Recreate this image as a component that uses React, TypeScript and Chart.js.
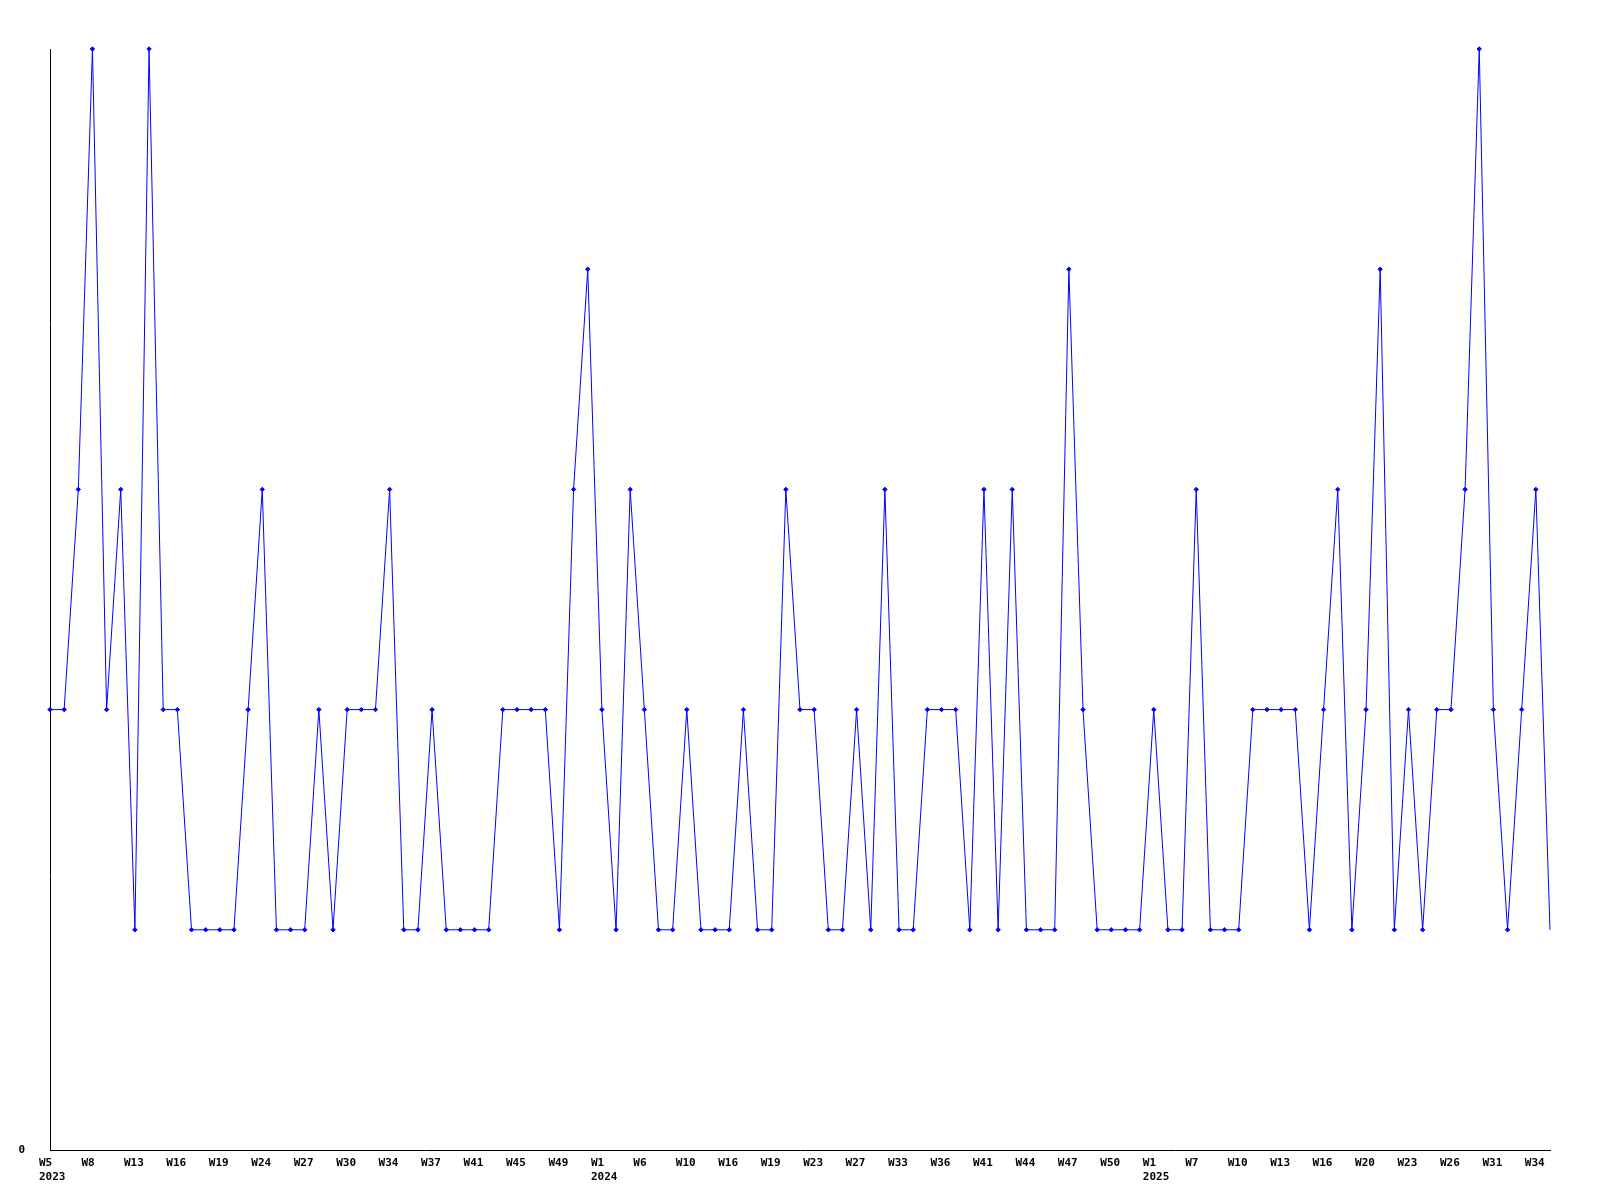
import React, { useEffect, useRef } from "react";
import { Chart, registerables } from "chart.js";

Chart.register(...registerables);

// Weekly values (107 points)
const values: number[] = [
  2, 2, 3, 5, 2, 3, 1, 5, 2, 2,
  1, 1, 1, 1, 2, 3, 1, 1, 1, 2,
  1, 2, 2, 2, 3, 1, 1, 2, 1, 1,
  1, 1, 2, 2, 2, 2, 1, 3, 4, 2,
  1, 3, 2, 1, 1, 2, 1, 1, 1, 2,
  1, 1, 3, 2, 2, 1, 1, 2, 1, 3,
  1, 1, 2, 2, 2, 1, 3, 1, 3, 1,
  1, 1, 4, 2, 1, 1, 1, 1, 2, 1,
  1, 3, 1, 1, 1, 2, 2, 2, 2, 1,
  2, 3, 1, 2, 4, 1, 2, 1, 2, 2,
  3, 5, 2, 1, 2, 3, 1,
];

// Tick labels shown every 3rd point
const tickWeeks: string[] = [
  "W5", "W8", "W13", "W16", "W19", "W24", "W27", "W30", "W34", "W37", "W41", "W45", "W49",
  "W1", "W6", "W10", "W16", "W19", "W23", "W27", "W33", "W36", "W41", "W44", "W47", "W50",
  "W1", "W7", "W10", "W13", "W16", "W20", "W23", "W26", "W31", "W34",
];
const tickYears: string[] = [
  "2023", "", "", "", "", "", "", "", "", "", "", "", "",
  "2024", "", "", "", "", "", "", "", "", "", "", "", "",
  "2025", "", "", "", "", "", "", "", "", "",
];
const tickEvery = 3;
const yMin = 0;
const yMax = 5;

export default function App() {
  const ref = useRef<HTMLCanvasElement | null>(null);

  useEffect(() => {
    const canvas = ref.current;
    if (!canvas) return;
    const labels: (string | string[])[] = values.map((_, i) => {
      if (i % tickEvery !== 0) return "";
      const k = i / tickEvery;
      const w = tickWeeks[k];
      if (w === undefined) return "";
      return tickYears[k] ? [w, tickYears[k]] : w;
    });
    const font = { family: "'DejaVu Sans Mono', monospace", size: 11, weight: "bold" as const, lineHeight: 1.3 };
    const chart = new Chart(canvas, {
      type: "line",
      data: {
        labels,
        datasets: [
          {
            data: values,
            borderColor: "#0000ff",
            backgroundColor: "#0000ff",
            borderWidth: 1,
            pointStyle: "rectRot",
            pointRadius: (ctx: any) => (ctx.dataIndex === values.length - 1 ? 0 : 2.2),
            pointBorderWidth: 1,
            pointBorderColor: "#0000ff",
            pointBackgroundColor: "#0000ff",
            tension: 0,
            fill: false,
            clip: false,
          } as any,
        ],
      },
      options: {
        animation: false,
        responsive: false,
        maintainAspectRatio: false,
        layout: { padding: { top: 49, right: 50, left: 0, bottom: 0 } },
        plugins: {
          legend: { display: false },
          tooltip: { enabled: false },
          title: { display: false },
        },
        scales: {
          x: {
            type: "category",
            offset: false,
            grid: { display: false, drawTicks: false },
            border: { display: true, color: "#000000", width: 1 },
            ticks: {
              autoSkip: false,
              maxRotation: 0,
              minRotation: 0,
              align: "start",
              labelOffset: -11,
              padding: 6,
              color: "#000000",
              font,
            },
            afterFit: (scale: any) => {
              scale.height = 50;
            },
          },
          y: {
            min: yMin,
            max: yMax,
            grid: { display: false, drawTicks: false },
            border: { display: true, color: "#000000", width: 1 },
            ticks: {
              stepSize: 1,
              padding: 25,
              color: "#000000",
              font,
              callback: (v: any) => (Number(v) === 0 ? "0" : ""),
            },
            afterFit: (scale: any) => {
              scale.width = 50;
            },
          },
        },
      },
    });
    return () => chart.destroy();
  }, []);

  return (
    <div style={{ position: "absolute", left: 0, top: 0, width: 1600, height: 1200, background: "#ffffff" }}>
      <canvas ref={ref} width={1600} height={1200} style={{ width: 1600, height: 1200, display: "block" }} />
    </div>
  );
}
